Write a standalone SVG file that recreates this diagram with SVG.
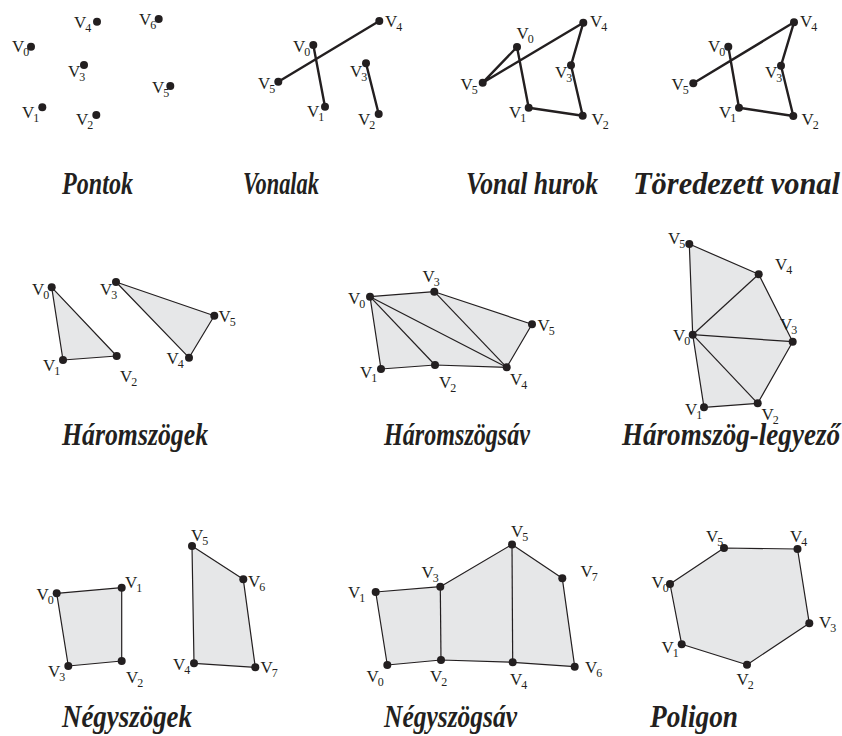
<svg xmlns="http://www.w3.org/2000/svg" width="842" height="736" viewBox="0 0 842 736">
<style>
.lbl{font-family:"Liberation Serif","Times New Roman",serif;font-size:17px;fill:#231f20}
.s{font-size:12px}
.t{font-family:"Liberation Serif","Times New Roman",serif;font-size:32px;font-weight:bold;font-style:italic;fill:#231f20}
.thick{fill:none;stroke:#231f20;stroke-width:2.4;stroke-linejoin:round;stroke-linecap:round}
.thin{fill:none;stroke:#231f20;stroke-width:1.2;stroke-linejoin:round}
.fill{fill:#e6e7e8;stroke:#231f20;stroke-width:1.2;stroke-linejoin:round}
circle{fill:#231f20}
</style>
<rect width="842" height="736" fill="#fff"/>

<!-- Panel 1: Pontok -->
<g id="p1">
<g id="p1-v0"><circle cx="31" cy="46.7" r="4"/><text class="lbl" x="12" y="52">V<tspan class="s" dx="-1" dy="4">0</tspan></text></g>
<g id="p1-v1"><circle cx="42.3" cy="107.3" r="4"/><text class="lbl" x="22" y="118">V<tspan class="s" dx="-1" dy="4">1</tspan></text></g>
<g id="p1-v2"><circle cx="96.3" cy="115" r="4"/><text class="lbl" x="76" y="125">V<tspan class="s" dx="-1" dy="4">2</tspan></text></g>
<g id="p1-v3"><circle cx="84" cy="65" r="4"/><text class="lbl" x="68" y="77">V<tspan class="s" dx="-1" dy="4">3</tspan></text></g>
<g id="p1-v4"><circle cx="97" cy="21.7" r="4"/><text class="lbl" x="74" y="28">V<tspan class="s" dx="-1" dy="4">4</tspan></text></g>
<g id="p1-v5"><circle cx="170.3" cy="86" r="4"/><text class="lbl" x="152" y="93">V<tspan class="s" dx="-1" dy="4">5</tspan></text></g>
<g id="p1-v6"><circle cx="158.7" cy="19" r="4"/><text class="lbl" x="139" y="25">V<tspan class="s" dx="-1" dy="4">6</tspan></text></g>
</g>

<!-- Panel 2: Vonalak -->
<g id="p2">
<g id="p2-connectors">
<line class="thick" x1="278.3" y1="81.7" x2="379.3" y2="21"/>
<line class="thick" x1="313.3" y1="45" x2="325" y2="106.7"/>
<line class="thick" x1="366" y1="63.3" x2="378.7" y2="114"/>
</g>
<g id="p2-v0"><circle cx="313.3" cy="45" r="4"/><text class="lbl" x="293" y="52">V<tspan class="s" dx="-1" dy="4">0</tspan></text></g>
<g id="p2-v1"><circle cx="325" cy="106.7" r="4"/><text class="lbl" x="307" y="116.5">V<tspan class="s" dx="-1" dy="4">1</tspan></text></g>
<g id="p2-v2"><circle cx="378.7" cy="114" r="4"/><text class="lbl" x="358" y="125">V<tspan class="s" dx="-1" dy="4">2</tspan></text></g>
<g id="p2-v3"><circle cx="366" cy="63.3" r="4"/><text class="lbl" x="350" y="76.5">V<tspan class="s" dx="-1" dy="4">3</tspan></text></g>
<g id="p2-v4"><circle cx="379.3" cy="21" r="4"/><text class="lbl" x="385" y="27">V<tspan class="s" dx="-1" dy="4">4</tspan></text></g>
<g id="p2-v5"><circle cx="278.3" cy="81.7" r="4"/><text class="lbl" x="258" y="89">V<tspan class="s" dx="-1" dy="4">5</tspan></text></g>
</g>

<!-- Panel 3: Vonal hurok -->
<g id="p3">
<g id="p3-connectors">
<polygon class="thick" points="517,47 528.7,107.7 582.7,115.7 571,65.3 583.3,22.7 482.7,82.7"/>
</g>
<g id="p3-v0"><circle cx="517" cy="47" r="4"/><text class="lbl" x="516.5" y="38.5">V<tspan class="s" dx="-1" dy="4">0</tspan></text></g>
<g id="p3-v1"><circle cx="528.7" cy="107.7" r="4"/><text class="lbl" x="509" y="117.5">V<tspan class="s" dx="-1" dy="4">1</tspan></text></g>
<g id="p3-v2"><circle cx="582.7" cy="115.7" r="4"/><text class="lbl" x="591.5" y="125">V<tspan class="s" dx="-1" dy="4">2</tspan></text></g>
<g id="p3-v3"><circle cx="571" cy="65.3" r="4"/><text class="lbl" x="555" y="77.5">V<tspan class="s" dx="-1" dy="4">3</tspan></text></g>
<g id="p3-v4"><circle cx="583.3" cy="22.7" r="4"/><text class="lbl" x="590" y="27">V<tspan class="s" dx="-1" dy="4">4</tspan></text></g>
<g id="p3-v5"><circle cx="482.7" cy="82.7" r="4"/><text class="lbl" x="460.5" y="90">V<tspan class="s" dx="-1" dy="4">5</tspan></text></g>
</g>

<!-- Panel 4: Töredezett vonal -->
<g id="p4">
<g id="p4-connectors">
<polyline class="thick" points="728.3,46.7 739,107.7 793.3,116 781,65.7 794,22.3 693.3,83.3"/>
</g>
<g id="p4-v0"><circle cx="728.3" cy="46.7" r="4"/><text class="lbl" x="708" y="52">V<tspan class="s" dx="-1" dy="4">0</tspan></text></g>
<g id="p4-v1"><circle cx="739" cy="107.7" r="4"/><text class="lbl" x="719" y="117.5">V<tspan class="s" dx="-1" dy="4">1</tspan></text></g>
<g id="p4-v2"><circle cx="793.3" cy="116" r="4"/><text class="lbl" x="801.5" y="125">V<tspan class="s" dx="-1" dy="4">2</tspan></text></g>
<g id="p4-v3"><circle cx="781" cy="65.7" r="4"/><text class="lbl" x="765" y="77.5">V<tspan class="s" dx="-1" dy="4">3</tspan></text></g>
<g id="p4-v4"><circle cx="794" cy="22.3" r="4"/><text class="lbl" x="800" y="27">V<tspan class="s" dx="-1" dy="4">4</tspan></text></g>
<g id="p4-v5"><circle cx="693.3" cy="83.3" r="4"/><text class="lbl" x="671.5" y="90">V<tspan class="s" dx="-1" dy="4">5</tspan></text></g>
</g>

<!-- Panel 5: Háromszögek -->
<g id="p5">
<g id="p5-connectors">
<polygon class="fill" points="51.7,287.3 63,360 116.7,356"/>
<polygon class="fill" points="116,282 189,357.7 214.3,315.7"/>
</g>
<g id="p5-v0"><circle cx="51.7" cy="287.3" r="4"/><text class="lbl" x="32" y="295">V<tspan class="s" dx="-1" dy="4">0</tspan></text></g>
<g id="p5-v1"><circle cx="63" cy="360" r="4"/><text class="lbl" x="43" y="370.5">V<tspan class="s" dx="-1" dy="4">1</tspan></text></g>
<g id="p5-v2"><circle cx="116.7" cy="356" r="4"/><text class="lbl" x="120" y="381.5">V<tspan class="s" dx="-1" dy="4">2</tspan></text></g>
<g id="p5-v3"><circle cx="116" cy="282" r="4"/><text class="lbl" x="100" y="295">V<tspan class="s" dx="-1" dy="4">3</tspan></text></g>
<g id="p5-v4"><circle cx="189" cy="357.7" r="4"/><text class="lbl" x="166.5" y="364">V<tspan class="s" dx="-1" dy="4">4</tspan></text></g>
<g id="p5-v5"><circle cx="214.3" cy="315.7" r="4"/><text class="lbl" x="218.5" y="322">V<tspan class="s" dx="-1" dy="4">5</tspan></text></g>
</g>

<!-- Panel 6: Háromszögsáv -->
<g id="p6">
<g id="p6-connectors">
<polygon class="fill" points="370,296.7 434.3,291.7 532,324.3 506.7,367.3 435,365 381,369"/>
<line class="thin" x1="370" y1="296.7" x2="435" y2="365"/>
<line class="thin" x1="370" y1="296.7" x2="506.7" y2="367.3"/>
<line class="thin" x1="434.3" y1="291.7" x2="506.7" y2="367.3"/>
</g>
<g id="p6-v0"><circle cx="370" cy="296.7" r="4"/><text class="lbl" x="348" y="303.5">V<tspan class="s" dx="-1" dy="4">0</tspan></text></g>
<g id="p6-v1"><circle cx="381" cy="369" r="4"/><text class="lbl" x="360" y="378">V<tspan class="s" dx="-1" dy="4">1</tspan></text></g>
<g id="p6-v2"><circle cx="435" cy="365" r="4"/><text class="lbl" x="439" y="387.5">V<tspan class="s" dx="-1" dy="4">2</tspan></text></g>
<g id="p6-v3"><circle cx="434.3" cy="291.7" r="4"/><text class="lbl" x="422.5" y="281.5">V<tspan class="s" dx="-1" dy="4">3</tspan></text></g>
<g id="p6-v4"><circle cx="506.7" cy="367.3" r="4"/><text class="lbl" x="510" y="385">V<tspan class="s" dx="-1" dy="4">4</tspan></text></g>
<g id="p6-v5"><circle cx="532" cy="324.3" r="4"/><text class="lbl" x="537.5" y="331">V<tspan class="s" dx="-1" dy="4">5</tspan></text></g>
</g>

<!-- Panel 7: Háromszög-legyező -->
<g id="p7">
<g id="p7-connectors">
<polygon class="fill" points="692.7,334.7 704,407.3 757.7,403.3 792.7,341.7 758.7,274.3 689.3,244"/>
<line class="thin" x1="692.7" y1="334.7" x2="757.7" y2="403.3"/>
<line class="thin" x1="692.7" y1="334.7" x2="792.7" y2="341.7"/>
<line class="thin" x1="692.7" y1="334.7" x2="758.7" y2="274.3"/>
</g>
<g id="p7-v0"><circle cx="692.7" cy="334.7" r="4"/><text class="lbl" x="673" y="341">V<tspan class="s" dx="-1" dy="4">0</tspan></text></g>
<g id="p7-v1"><circle cx="704" cy="407.3" r="4"/><text class="lbl" x="685" y="415">V<tspan class="s" dx="-1" dy="4">1</tspan></text></g>
<g id="p7-v2"><circle cx="757.7" cy="403.3" r="4"/><text class="lbl" x="761.5" y="420">V<tspan class="s" dx="-1" dy="4">2</tspan></text></g>
<g id="p7-v3"><circle cx="792.7" cy="341.7" r="4"/><text class="lbl" x="780" y="330">V<tspan class="s" dx="-1" dy="4">3</tspan></text></g>
<g id="p7-v4"><circle cx="758.7" cy="274.3" r="4"/><text class="lbl" x="775" y="269.5">V<tspan class="s" dx="-1" dy="4">4</tspan></text></g>
<g id="p7-v5"><circle cx="689.3" cy="244" r="4"/><text class="lbl" x="668" y="244">V<tspan class="s" dx="-1" dy="4">5</tspan></text></g>
</g>

<!-- Panel 8: Négyszögek -->
<g id="p8">
<g id="p8-connectors">
<polygon class="fill" points="56.7,593.3 121.7,587.7 121.7,661 68.3,666"/>
<polygon class="fill" points="192,546 243.3,579.3 255.3,667.3 194,663.3"/>
</g>
<g id="p8-v0"><circle cx="56.7" cy="593.3" r="4"/><text class="lbl" x="36.5" y="600">V<tspan class="s" dx="-1" dy="4">0</tspan></text></g>
<g id="p8-v1"><circle cx="121.7" cy="587.7" r="4"/><text class="lbl" x="125" y="588">V<tspan class="s" dx="-1" dy="4">1</tspan></text></g>
<g id="p8-v2"><circle cx="121.7" cy="661" r="4"/><text class="lbl" x="126" y="683">V<tspan class="s" dx="-1" dy="4">2</tspan></text></g>
<g id="p8-v3"><circle cx="68.3" cy="666" r="4"/><text class="lbl" x="48" y="676.5">V<tspan class="s" dx="-1" dy="4">3</tspan></text></g>
<g id="p8-v4"><circle cx="194" cy="663.3" r="4"/><text class="lbl" x="173" y="670">V<tspan class="s" dx="-1" dy="4">4</tspan></text></g>
<g id="p8-v5"><circle cx="192" cy="546" r="4"/><text class="lbl" x="191" y="541">V<tspan class="s" dx="-1" dy="4">5</tspan></text></g>
<g id="p8-v6"><circle cx="243.3" cy="579.3" r="4"/><text class="lbl" x="248" y="586.5">V<tspan class="s" dx="-1" dy="4">6</tspan></text></g>
<g id="p8-v7"><circle cx="255.3" cy="667.3" r="4"/><text class="lbl" x="260.5" y="673">V<tspan class="s" dx="-1" dy="4">7</tspan></text></g>
</g>

<!-- Panel 9: Négyszögsáv -->
<g id="p9">
<g id="p9-connectors">
<polygon class="fill" points="375.7,592 440.3,586.7 512,544.5 562.3,578.3 574.7,666.7 512.7,662.3 441,660 387.3,665"/>
<line class="thin" x1="440.3" y1="586.7" x2="441" y2="660"/>
<line class="thin" x1="512" y1="544.5" x2="512.7" y2="662.3"/>
</g>
<g id="p9-v0"><circle cx="387.3" cy="665" r="4"/><text class="lbl" x="366.5" y="681.5">V<tspan class="s" dx="-1" dy="4">0</tspan></text></g>
<g id="p9-v1"><circle cx="375.7" cy="592" r="4"/><text class="lbl" x="348" y="597.5">V<tspan class="s" dx="-1" dy="4">1</tspan></text></g>
<g id="p9-v2"><circle cx="441" cy="660" r="4"/><text class="lbl" x="430" y="681.5">V<tspan class="s" dx="-1" dy="4">2</tspan></text></g>
<g id="p9-v3"><circle cx="440.3" cy="586.7" r="4"/><text class="lbl" x="421.5" y="578">V<tspan class="s" dx="-1" dy="4">3</tspan></text></g>
<g id="p9-v4"><circle cx="512.7" cy="662.3" r="4"/><text class="lbl" x="510" y="684.5">V<tspan class="s" dx="-1" dy="4">4</tspan></text></g>
<g id="p9-v5"><circle cx="512" cy="544.5" r="4"/><text class="lbl" x="511" y="537">V<tspan class="s" dx="-1" dy="4">5</tspan></text></g>
<g id="p9-v6"><circle cx="574.7" cy="666.7" r="4"/><text class="lbl" x="585" y="673">V<tspan class="s" dx="-1" dy="4">6</tspan></text></g>
<g id="p9-v7"><circle cx="562.3" cy="578.3" r="4"/><text class="lbl" x="580.5" y="576.5">V<tspan class="s" dx="-1" dy="4">7</tspan></text></g>
</g>

<!-- Panel 10: Poligon -->
<g id="p10">
<g id="p10-connectors">
<polygon class="fill" points="670,584 681.7,644.3 747,664.7 809.3,623.3 797.5,549 724,548"/>
</g>
<g id="p10-v0"><circle cx="670" cy="584" r="4"/><text class="lbl" x="651.5" y="588">V<tspan class="s" dx="-1" dy="4">0</tspan></text></g>
<g id="p10-v1"><circle cx="681.7" cy="644.3" r="4"/><text class="lbl" x="661.5" y="653">V<tspan class="s" dx="-1" dy="4">1</tspan></text></g>
<g id="p10-v2"><circle cx="747" cy="664.7" r="4"/><text class="lbl" x="736.5" y="685">V<tspan class="s" dx="-1" dy="4">2</tspan></text></g>
<g id="p10-v3"><circle cx="809.3" cy="623.3" r="4"/><text class="lbl" x="819" y="628">V<tspan class="s" dx="-1" dy="4">3</tspan></text></g>
<g id="p10-v4"><circle cx="797.5" cy="549" r="4"/><text class="lbl" x="790" y="542">V<tspan class="s" dx="-1" dy="4">4</tspan></text></g>
<g id="p10-v5"><circle cx="724" cy="548" r="4"/><text class="lbl" x="706" y="542">V<tspan class="s" dx="-1" dy="4">5</tspan></text></g>
</g>

<!-- Titles -->
<g id="titles">
<text class="t" transform="translate(62,194) scale(0.754,1)" textLength="94.2" lengthAdjust="spacingAndGlyphs">Pontok</text>
<text class="t" transform="translate(243,194) scale(0.68,1)" textLength="111.8" lengthAdjust="spacingAndGlyphs">Vonalak</text>
<text class="t" transform="translate(466,194) scale(0.785,1)" textLength="168.2" lengthAdjust="spacingAndGlyphs">Vonal hurok</text>
<text class="t" transform="translate(633,194) scale(0.9,1)" textLength="230" lengthAdjust="spacingAndGlyphs">Töredezett vonal</text>
<text class="t" transform="translate(62,445) scale(0.805,1)" textLength="181.4" lengthAdjust="spacingAndGlyphs">Háromszögek</text>
<text class="t" transform="translate(384,445) scale(0.753,1)" textLength="193.9" lengthAdjust="spacingAndGlyphs">Háromszögsáv</text>
<text class="t" transform="translate(622,445) scale(0.8,1)" textLength="272.5" lengthAdjust="spacingAndGlyphs">Háromszög-legyező</text>
<text class="t" transform="translate(62,727) scale(0.841,1)" textLength="154.6" lengthAdjust="spacingAndGlyphs">Négyszögek</text>
<text class="t" transform="translate(384,727) scale(0.796,1)" textLength="167.1" lengthAdjust="spacingAndGlyphs">Négyszögsáv</text>
<text class="t" transform="translate(650,727) scale(0.853,1)" textLength="103.2" lengthAdjust="spacingAndGlyphs">Poligon</text>
</g>
</svg>
